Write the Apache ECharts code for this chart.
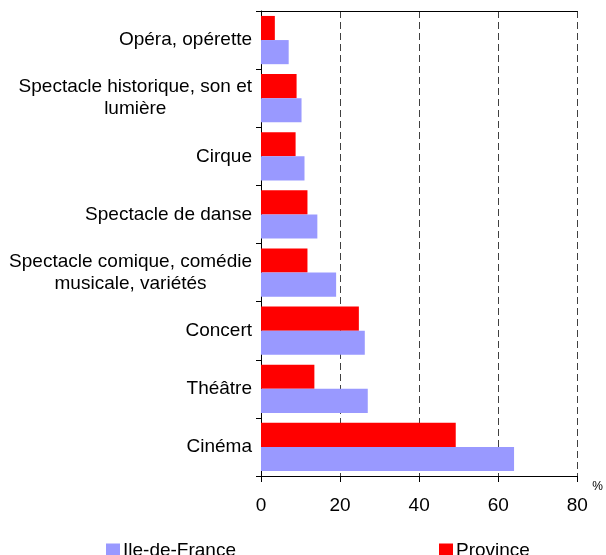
<!DOCTYPE html>
<html>
<head>
<meta charset="utf-8">
<script src="https://cdn.jsdelivr.net/npm/echarts@6/dist/echarts.min.js"></script>
<style>
html,body{margin:0;padding:0;background:#fff;}
#chart{width:606px;height:555px;}
</style>
</head>
<body>
<div id="chart"></div>
<script>
// Categories listed bottom to top
const categories = [
  'Cinéma',
  'Théâtre',
  'Concert',
  'Spectacle comique, comédie\nmusicale, variétés',
  'Spectacle de danse',
  'Cirque',
  'Spectacle historique, son et\nlumière',
  'Opéra, opérette'
];
const ileDeFrance = [64, 27, 26.25, 19, 14.25, 11, 10.25, 7];
const province = [49.25, 13.5, 24.75, 11.75, 11.75, 8.75, 9, 3.5];
const xTicks = [0, 20, 40, 60, 80];
const seriesNames = ['Ile-de-France', 'Province'];

const FONT = '"Liberation Sans", Arial, sans-serif';
const chart = echarts.init(document.getElementById('chart'), null, {renderer: 'canvas'});

chart.setOption({
  animation: false,
  backgroundColor: '#ffffff',
  textStyle: {fontFamily: FONT, color: '#000'},
  grid: {left: 261, right: 25, top: 11, bottom: 79, containLabel: false},
  legend: [
    {
      data: [seriesNames[0]], left: 101, top: 536, icon: 'rect',
      itemWidth: 14, itemHeight: 14,
      textStyle: {fontFamily: FONT, fontSize: 19, color: '#000', padding: [0, 0, 0, -2]}
    },
    {
      data: [seriesNames[1]], left: 434, top: 536, icon: 'rect',
      itemWidth: 14, itemHeight: 14,
      textStyle: {fontFamily: FONT, fontSize: 19, color: '#000', padding: [0, 0, 0, -2]}
    }
  ],
  xAxis: [
    {
      type: 'value', position: 'bottom',
      min: xTicks[0], max: xTicks[xTicks.length - 1], interval: xTicks[1] - xTicks[0],
      name: '%', nameLocation: 'end', nameGap: 15,
      nameTextStyle: {fontFamily: FONT, fontSize: 12, color: '#000', verticalAlign: 'top', padding: [5, 0, 0, 0]},
      axisLine: {show: true, lineStyle: {color: '#000', width: 1}},
      axisTick: {show: true, length: 6, lineStyle: {color: '#000'}},
      axisLabel: {fontFamily: FONT, fontSize: 19, color: '#000', margin: 20},
      splitLine: {show: true, lineStyle: {color: '#404040', type: [7, 4], width: 1}}
    },
    {
      type: 'value', position: 'top',
      min: xTicks[0], max: xTicks[xTicks.length - 1],
      axisLine: {show: true, lineStyle: {color: '#000', width: 1}},
      axisTick: {show: false}, axisLabel: {show: false}, splitLine: {show: false}
    }
  ],
  yAxis: {
    type: 'category',
    data: categories,
    axisLine: {show: true, lineStyle: {color: '#000', width: 1}},
    axisTick: {show: true, length: 5, lineStyle: {color: '#000'}},
    axisLabel: {
      margin: 9,
      fontFamily: FONT, fontSize: 19, color: '#000', lineHeight: 22,
      formatter: function (v) {
        return v.split('\n').map(function (l) { return '{c|' + l + '}'; }).join('\n');
      },
      rich: {c: {align: 'center', fontFamily: FONT, fontSize: 19, color: '#000', lineHeight: 22}}
    },
    splitLine: {show: false}
  },
  series: [
    {
      name: seriesNames[1], type: 'bar', data: province,
      itemStyle: {color: '#FF0000'},
      barGap: '0%', barCategoryGap: '17%'
    },
    {
      name: seriesNames[0], type: 'bar', data: ileDeFrance,
      itemStyle: {color: '#9999FF'},
      barGap: '0%', barCategoryGap: '17%'
    }
  ]
});
</script>
</body>
</html>
